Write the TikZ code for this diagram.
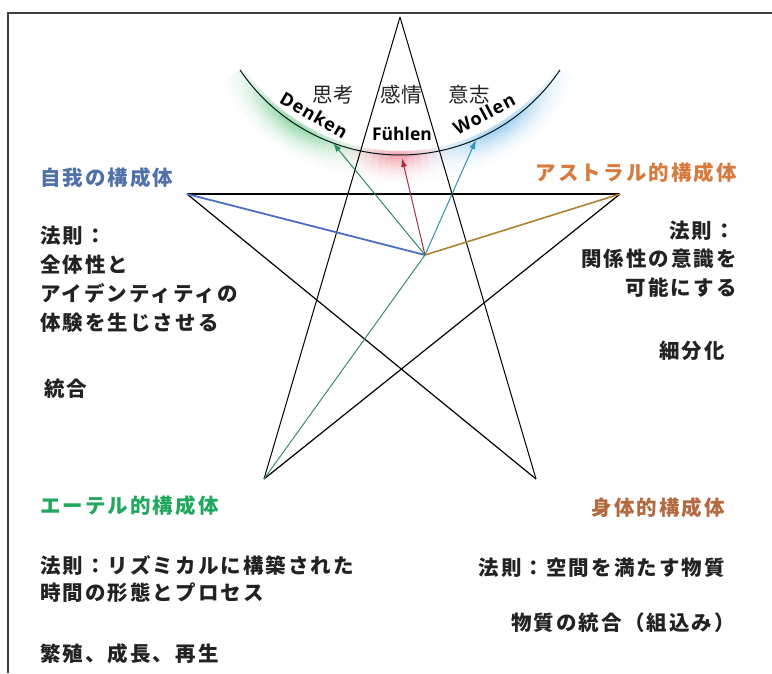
\documentclass[tikz,border=0pt]{standalone}
\usepackage{fontspec}
\newfontfamily\jp[LetterSpace=10]{Noto Sans CJK JP}
\newfontfamily\jpk{Noto Sans CJK JP}
\newfontfamily\lat[LetterSpace=6]{Open Sans}
\newfontfamily\latn{Open Sans}
\usetikzlibrary{arrows.meta}
\definecolor{egoblue}{HTML}{4F70A8}
\definecolor{astorange}{HTML}{D67A3E}
\definecolor{ethgreen}{HTML}{22A85E}
\definecolor{bodybrown}{HTML}{B36A40}
\definecolor{lblue}{HTML}{4A6FC0}
\definecolor{lbrown}{HTML}{B08030}
\definecolor{lteal}{HTML}{3C8A6A}
\definecolor{lgreen}{HTML}{2A8A5A}
\definecolor{lred}{HTML}{A03040}
\definecolor{hred}{HTML}{D02030}
\definecolor{lwol}{HTML}{3090B0}
\definecolor{hwol}{HTML}{30A0D0}
\definecolor{txt}{HTML}{222222}
\begin{document}
\begin{tikzpicture}[x=1pt,y=-1pt,
  jtext/.style={inner sep=0pt,font=\jp\bfseries\fontsize{20.5}{29}\selectfont,text=txt},
  jtitle/.style={inner sep=0pt,font=\jp\bfseries\fontsize{20.5}{29}\selectfont},
  wlabel/.style={inner sep=0pt,font=\lat\bfseries\fontsize{18}{20}\selectfont},
  flabel/.style={inner sep=0pt,font=\latn\bfseries\fontsize{17.5}{20}\selectfont},
  klabel/.style={inner sep=0pt,font=\jpk\fontsize{20.5}{24}\selectfont,text=txt},
  starline/.style={line width=1pt,black},
  arr/.style={-{Latex[length=9pt,width=6pt]}}]
\useasboundingbox (0,0) rectangle (772,673);
% frame
\draw[line width=1.6pt,black!75] (8,673) -- (8,13) -- (772,13);
% glow along the arc
\foreach \a in {34,36,...,144} {
  \pgfmathsetmacro\gw{exp(-((\a-122)/17)^2)}
  \pgfmathsetmacro\rw{exp(-((\a-90)/9)^2)}
  \pgfmathsetmacro\bw{exp(-((\a-58)/17)^2)}
  \pgfmathsetmacro\sw{\gw+\rw+\bw}
  \pgfmathsetmacro\colR{(0.2*\gw+0.95*\rw+0.3*\bw)/\sw}
  \pgfmathsetmacro\colG{(0.7*\gw+0.3*\rw+0.65*\bw)/\sw}
  \pgfmathsetmacro\colB{(0.35*\gw+0.38*\rw+0.9*\bw)/\sw}
  \pgfmathsetmacro\ww{min(1,\sw)}
  \definecolor{glowc}{rgb}{\colR,\colG,\colB}
  \foreach \k in {-2,...,15} {
    \pgfmathsetmacro\op{0.5*\ww*(1-abs(\k)/16)^2}
    \pgfmathsetmacro\ri{193+2*\k}
    \pgfmathsetmacro\ro{195+2*\k}
    \fill[glowc,opacity=\op]
      ({400+\ri*cos(\a)},{-38+\ri*sin(\a)}) --
      ({400+\ri*cos(\a+2)},{-38+\ri*sin(\a+2)}) --
      ({400+\ro*cos(\a+2)},{-38+\ro*sin(\a+2)}) --
      ({400+\ro*cos(\a)},{-38+\ro*sin(\a)}) -- cycle;
  }
}
% arc
\draw[line width=1pt,black!80!teal] plot[domain=34:146,samples=80] ({400+193*cos(\x)},{-38+193*sin(\x)});
% star vertices and centre
\coordinate (T) at (400,17);
\coordinate (L) at (187,194);
\coordinate (R) at (620,194);
\coordinate (BL) at (264,479);
\coordinate (BR) at (536,479);
\coordinate (C) at (425,255);
\coordinate (D) at (333,143);
\coordinate (F) at (402,158);
\coordinate (W) at (476,140);
% pentagram
\draw[starline] (T) -- (BL);
\draw[starline,line width=1.2pt] (BL) -- (R);
\draw[starline,line width=1.2pt] (R) -- (L);
\draw[starline,line width=1.2pt] (L) -- (BR);
\draw[starline] (BR) -- (T);
% coloured lines
\draw[lblue,line width=1.8pt] (L) -- (C);
\draw[lbrown,line width=1.6pt] (C) -- (R);
\draw[lteal,line width=1pt] (BL) -- (C);
\draw[lgreen,line width=1pt,arr] (C) -- (D);
\draw[lred,line width=1pt,-{Latex[length=9pt,width=6pt,fill=hred]}] (C) -- (F);
\draw[lwol,line width=1pt,-{Latex[length=9pt,width=6pt,fill=hwol]}] (C) -- (W);
% arc labels
\node[klabel] (shiko) at (333,95) {思考};
\node[klabel] (kanjo) at (401,95) {感情};
\node[klabel] (ishi) at (469,95) {意志};
\node[wlabel,rotate=-30] (denken) at (314,115) {Denken};
\node[flabel] (fuhlen) at (402,134) {Fühlen};
\node[wlabel,rotate=28] (wollen) at (484,114) {Wollen};
% ego
\node[jtitle,text=egoblue,anchor=base west] (egot) at (40,185) {自我の構成体};
\node[jtext,anchor=base west] (ego1) at (40,243) {法則：};
\node[jtext,anchor=base west] (ego2) at (40,272) {全体性と};
\node[jtext,anchor=base west] (ego3) at (40,301) {アイデンティティの};
\node[jtext,anchor=base west] (ego4) at (40,330) {体験を生じさせる};
\node[jtext,anchor=base west] (ego5) at (44,396) {統合};
% astral
\node[jtitle,text=astorange,anchor=base east] (astt) at (737,180) {アストラル的構成体};
\node[jtext,anchor=base east] (ast1) at (735,238) {法則：};
\node[jtext,anchor=base east] (ast2) at (737,266) {関係性の意識を};
\node[jtext,anchor=base east] (ast3) at (737,295) {可能にする};
\node[jtext,anchor=base east] (ast4) at (725,358) {細分化};
% etheric
\node[jtitle,text=ethgreen,anchor=base west] (etht) at (40,513) {エーテル的構成体};
\node[jtext,anchor=base west] (eth1) at (40,573) {法則：リズミカルに構築された};
\node[jtext,anchor=base west] (eth2) at (40,600) {時間の形態とプロセス};
\node[jtext,anchor=base west] (eth3) at (40,661) {繁殖、成長、再生};
% physical
\node[jtitle,text=bodybrown,anchor=base east] (phyt) at (725,515) {身体的構成体};
\node[jtext,anchor=base east] (phy1) at (725,575) {法則：空間を満たす物質};
\node[jtext,anchor=base east] (phy2) at (735,630) {物質の統合（組込み）};
\end{tikzpicture}
\end{document}
